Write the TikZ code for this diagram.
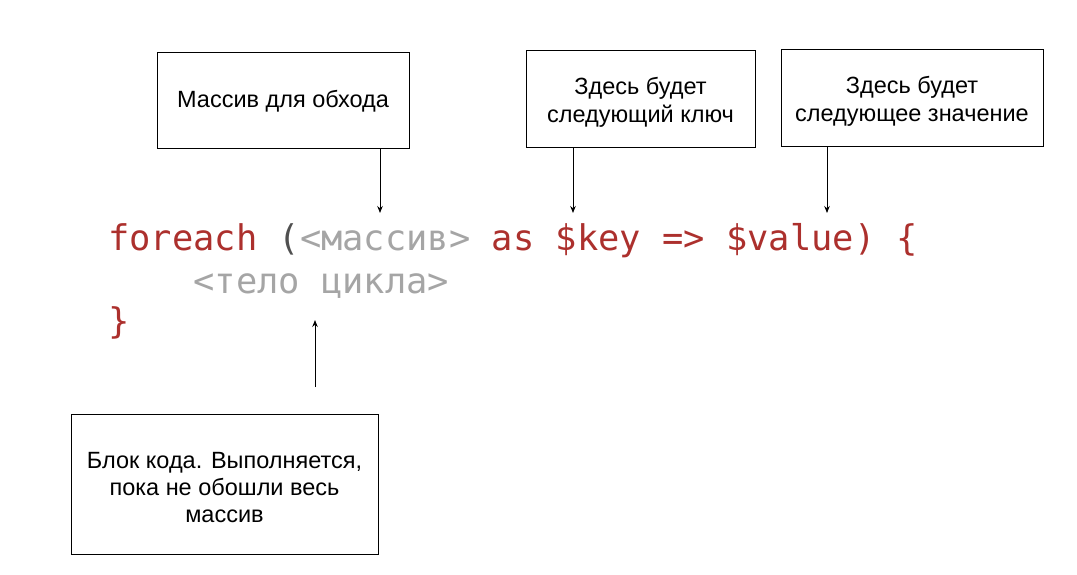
\documentclass[tikz,border=0pt]{standalone}
\usepackage{fontspec}
\setmainfont{Liberation Sans}
\setmonofont{DejaVu Sans Mono}
\usetikzlibrary{arrows.meta}
\definecolor{codered}{RGB}{172,48,45}
\definecolor{codegray}{RGB}{165,165,165}
\definecolor{codedark}{RGB}{80,80,80}
\tikzset{
  box/.style={draw=black, line width=1pt, inner sep=0pt},
  boxtext/.style={align=center, inner sep=0pt, font=\fontsize{23.5}{28}\selectfont},
  arr/.style={-{Stealth[length=7pt,width=5.5pt]}, line width=0.9pt},
  code/.style={anchor=base west, inner sep=0pt, font=\fontsize{35.4}{43}\ttfamily}
}
\begin{document}
\begin{tikzpicture}[x=1pt,y=-1pt]
\useasboundingbox (0,0) rectangle (1077,574);
\node[box, minimum width=252pt, minimum height=96pt] (b1) at (283,100) {};
\node[boxtext] (b1t) at ([yshift=-1.5pt]b1.center) {Массив для обхода};
\node[box, minimum width=229pt, minimum height=97pt] (b2) at (640.5,98.5) {};
\node[boxtext] (b2t) at ([yshift=-3.5pt]b2.center) {Здесь будет\\следующий ключ};
\node[box, minimum width=262pt, minimum height=97pt] (b3) at (912,97.5) {};
\node[boxtext] (b3t) at ([yshift=-3.5pt]b3.center) {Здесь будет\\следующее значение};
\node[box, minimum width=307pt, minimum height=140pt] (b4) at (224.5,484) {};
\node[boxtext, font=\fontsize{23.5}{27}\selectfont] (b4t) at ([yshift=-3.5pt]b4.center) {Блок кода. Выполняется,\\пока не обошли весь\\массив};
\node[code] (l1) at (108,250) {\textcolor{codered}{foreach} \textcolor{codedark}{(}\textcolor{codegray}{<массив>} \textcolor{codered}{as \$key => \$value) \{}};
\node[code] (l2) at (108,293.5) {\textcolor{codegray}{\ \ \ \ <тело цикла>}};
\node[code] (l3) at (108,333) {\textcolor{codered}{\}}};
\coordinate (t1) at (380,213);
\coordinate (t2) at (573,213);
\coordinate (t3) at (827,213);
\coordinate (t4) at (315,320);
\draw[arr] (b1.south -| t1) -- (t1);
\draw[arr] (b2.south -| t2) -- (t2);
\draw[arr] (b3.south -| t3) -- (t3);
\draw[arr] (t4 |- 0,387) -- (t4);
\end{tikzpicture}
\end{document}
